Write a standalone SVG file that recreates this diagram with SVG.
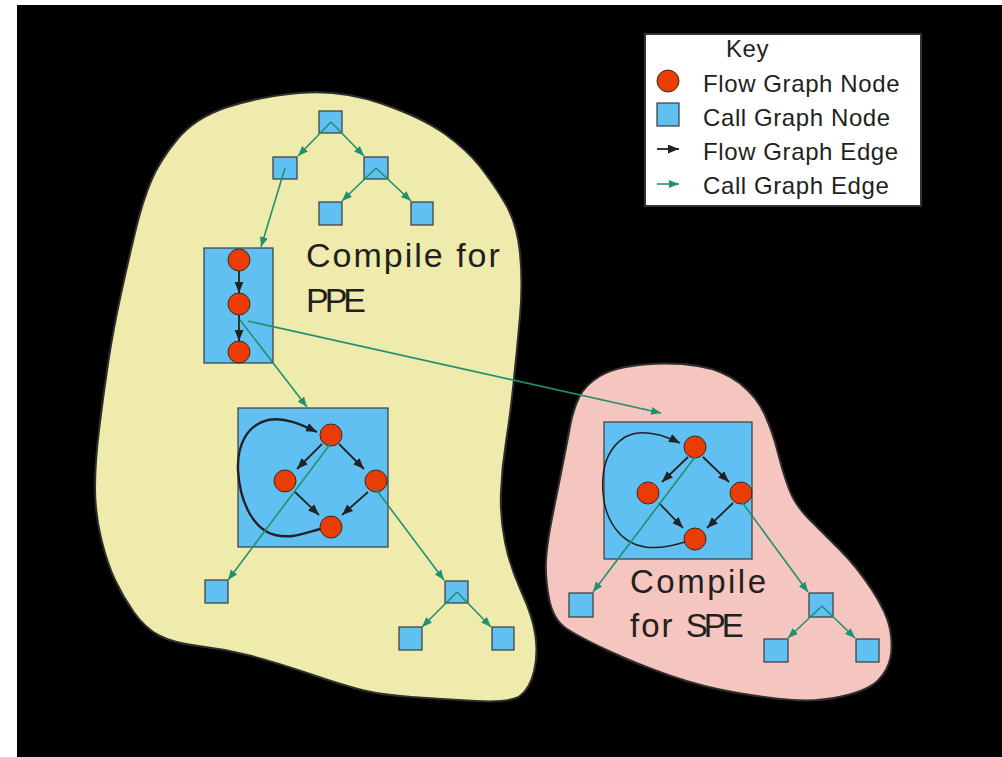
<svg xmlns="http://www.w3.org/2000/svg" width="1002" height="757" viewBox="0 0 1002 757">
  <style>
    .cg { fill: #60c0f2; stroke: #3a3a3a; stroke-width: 1.2; }
    .fg { fill: #ea3d05; stroke: #3a2a20; stroke-width: 1; }
    .ce { fill: none; stroke: #20906e; stroke-width: 1.6; marker-end: url(#ag); }
    .fe { fill: none; stroke: #222; stroke-width: 1.8; marker-end: url(#ab); }
    .lp { fill: none; stroke: #222; marker-end: url(#ab); }
    .big { font-family: "Liberation Sans", Arial, sans-serif; fill: #231f20; }
    .key { font-family: "Liberation Sans", Arial, sans-serif; fill: #231f20; font-size: 24px; letter-spacing: 0.6px; }
  </style>
  <defs>
    <marker id="ag" viewBox="0 0 10 8" refX="10" refY="4" markerWidth="10" markerHeight="8" markerUnits="userSpaceOnUse" orient="auto">
      <path d="M0,0 L10,4 L0,8 z" fill="#20906e"/>
    </marker>
    <marker id="ab" viewBox="0 0 10 8" refX="10" refY="4" markerWidth="11" markerHeight="9" markerUnits="userSpaceOnUse" orient="auto">
      <path d="M0,0 L10,4 L0,8 z" fill="#222"/>
    </marker>
  </defs>

  <!-- page -->
  <rect x="0" y="0" width="1002" height="757" fill="#fff"/>
  <rect x="17" y="5" width="985" height="752" fill="#000"/>

  <!-- compilation regions -->
  <g id="region-ppe">
    <path d="M381.5,103.5 Q423,118 445,134 Q467,150 480,166.5 Q493,183 505,203 Q517,223 520,253 Q523,283 520,316.5 Q517,350 513.5,383.5 Q510,417 506,442 Q502,467 501,492 Q500,517 505,542 Q510,567 521.5,592 Q533,617 535.5,636 Q538,655 534,671.5 Q530,688 520.5,695.5 Q511,703 475.5,701 Q440,699 411.5,697 Q383,695 364,690.5 Q345,686 310,674 Q275,662 249.5,655.5 Q224,649 198.5,646 Q173,643 159,635.5 Q145,628 134,612.5 Q123,597 115,580 Q107,563 101,538 Q95,513 95,488 Q95,463 99,430 Q103,397 108,363.5 Q113,330 121.5,291.5 Q130,253 136.5,226.5 Q143,200 151.5,180 Q160,160 177.5,139 Q195,118 226,107.5 Q257,97 298.5,93 Q340,89 381.5,103.5 Z" fill="#eeebad" stroke="#2e2e2e" stroke-width="2"/>
    <text class="big" x="306" y="267" font-size="34" letter-spacing="2">Compile for</text>
    <text class="big" x="306" y="312" font-size="34" letter-spacing="-4">PPE</text>
  </g>
  <g id="region-spe">
    <path d="M644,364.5 Q673,362 698,366 Q723,370 740,383.5 Q757,397 765,415 Q773,433 778,453 Q783,473 789,489 Q795,505 809,519 Q823,533 840,550 Q857,567 872,590 Q887,613 890,629 Q893,645 890.5,657.5 Q888,670 878.5,680 Q869,690 843.5,696 Q818,702 792.5,700 Q767,698 735,692.5 Q703,687 671,676 Q639,665 610,651.5 Q581,638 567,629 Q553,620 549,598.5 Q545,577 546,560 Q547,543 552,518 Q557,493 562,468 Q567,443 570,426.5 Q573,410 579,397.5 Q585,385 600,376 Q615,367 644,364.5 Z" fill="#f5c5c0" stroke="#2e2e2e" stroke-width="2"/>
    <text class="big" x="630" y="593" font-size="33" letter-spacing="2.5">Compile</text>
    <text class="big" x="630" y="637" font-size="33"><tspan letter-spacing="2">for </tspan><tspan letter-spacing="-4">SPE</tspan></text>
  </g>

  <!-- call graph nodes, PPE side -->
  <g id="ppe-root"><rect class="cg" x="319" y="111" width="23" height="22"/></g>
  <g id="ppe-a"><rect class="cg" x="273" y="157" width="24" height="22"/></g>
  <g id="ppe-b"><rect class="cg" x="364" y="157" width="24" height="22"/></g>
  <g id="ppe-b1"><rect class="cg" x="319" y="202" width="23" height="23"/></g>
  <g id="ppe-b2"><rect class="cg" x="411" y="202" width="22" height="23"/></g>
  <g id="ppe-seq">
    <rect class="cg" x="204" y="248" width="69" height="115"/>
    <circle class="fg" cx="239" cy="260" r="11"/>
    <circle class="fg" cx="239" cy="304" r="11"/>
    <circle class="fg" cx="239" cy="352" r="11"/>
  </g>
  <g id="ppe-loop">
    <rect class="cg" x="238" y="408" width="150" height="139"/>
    <circle class="fg" cx="331" cy="435" r="11"/>
    <circle class="fg" cx="285" cy="481" r="11"/>
    <circle class="fg" cx="376" cy="481" r="11"/>
    <circle class="fg" cx="331" cy="527" r="11"/>
  </g>
  <g id="ppe-leaf"><rect class="cg" x="205" y="580" width="23" height="23"/></g>
  <g id="ppe-c"><rect class="cg" x="445" y="581" width="23" height="22"/></g>
  <g id="ppe-c1"><rect class="cg" x="399" y="627" width="23" height="23"/></g>
  <g id="ppe-c2"><rect class="cg" x="492" y="627" width="22" height="23"/></g>

  <!-- call graph nodes, SPE side -->
  <g id="spe-loop">
    <rect class="cg" x="604" y="422" width="148" height="137"/>
    <circle class="fg" cx="695" cy="447" r="11"/>
    <circle class="fg" cx="648" cy="493" r="11"/>
    <circle class="fg" cx="741" cy="493" r="11"/>
    <circle class="fg" cx="695" cy="539" r="11"/>
  </g>
  <g id="spe-leaf"><rect class="cg" x="569" y="593" width="24" height="24"/></g>
  <g id="spe-c"><rect class="cg" x="809" y="593" width="24" height="24"/></g>
  <g id="spe-c1"><rect class="cg" x="764" y="639" width="24" height="23"/></g>
  <g id="spe-c2"><rect class="cg" x="856" y="639" width="23" height="23"/></g>

  <!-- edges -->
  <g id="connectors">
    <!-- flow graph edges -->
    <line class="fe" x1="239" y1="271" x2="239" y2="293"/>
    <line class="fe" x1="239" y1="315" x2="239" y2="341"/>
    <line class="fe" x1="322" y1="444" x2="297" y2="469"/>
    <line class="fe" x1="339" y1="444" x2="364" y2="469"/>
    <line class="fe" x1="295" y1="492" x2="319" y2="515"/>
    <line class="fe" x1="368" y1="492" x2="342" y2="515"/>
    <path class="lp" stroke-width="2.4" d="M320,529 C305,533 292,539 275,535 C255,530 240,505 238,470 C237,445 247,425 268,420 C285,417 300,424 317,432"/>
    <line class="fe" x1="688" y1="457" x2="662" y2="482"/>
    <line class="fe" x1="703" y1="457" x2="729" y2="482"/>
    <line class="fe" x1="659" y1="503" x2="683" y2="528"/>
    <line class="fe" x1="733" y1="503" x2="707" y2="528"/>
    <path class="lp" stroke-width="1.5" d="M685,542 C672,546 658,549 645,547 C620,543 605,520 603,493 C601,468 608,448 625,437 C640,429 660,433 680,443"/>

    <!-- call graph edges -->
    <line class="ce" x1="331" y1="122" x2="298" y2="156"/>
    <line class="ce" x1="331" y1="122" x2="364" y2="156"/>
    <line class="ce" x1="376" y1="168" x2="342" y2="201"/>
    <line class="ce" x1="376" y1="168" x2="411" y2="201"/>
    <line class="ce" x1="285" y1="168" x2="261" y2="247"/>
    <line class="ce" x1="240" y1="320" x2="307" y2="407"/>
    <line class="ce" x1="248" y1="321" x2="661" y2="413"/>
    <line class="ce" x1="331" y1="443" x2="228" y2="580"/>
    <line class="ce" x1="375" y1="488" x2="444" y2="580"/>
    <line class="ce" x1="457" y1="592" x2="422" y2="627"/>
    <line class="ce" x1="457" y1="592" x2="491" y2="627"/>
    <line class="ce" x1="695" y1="457" x2="593" y2="592"/>
    <line class="ce" x1="742" y1="502" x2="808" y2="592"/>
    <line class="ce" x1="822" y1="606" x2="788" y2="638"/>
    <line class="ce" x1="822" y1="606" x2="855" y2="638"/>
  </g>

  <!-- key -->
  <g id="legend">
    <rect x="645" y="34" width="276" height="172" fill="#fff" stroke="#333" stroke-width="2"/>
    <text class="key" x="726" y="57" font-size="27" letter-spacing="-0.5">Key</text>
    <circle class="fg" cx="668" cy="81" r="11"/>
    <text class="key" x="703" y="92">Flow Graph Node</text>
    <rect class="cg" x="657" y="103" width="22" height="23"/>
    <text class="key" x="703" y="126">Call Graph Node</text>
    <line class="fe" x1="657" y1="149" x2="679" y2="149"/>
    <text class="key" x="703" y="160">Flow Graph Edge</text>
    <line class="ce" x1="657" y1="184" x2="679" y2="184"/>
    <text class="key" x="703" y="194">Call Graph Edge</text>
  </g>
</svg>
